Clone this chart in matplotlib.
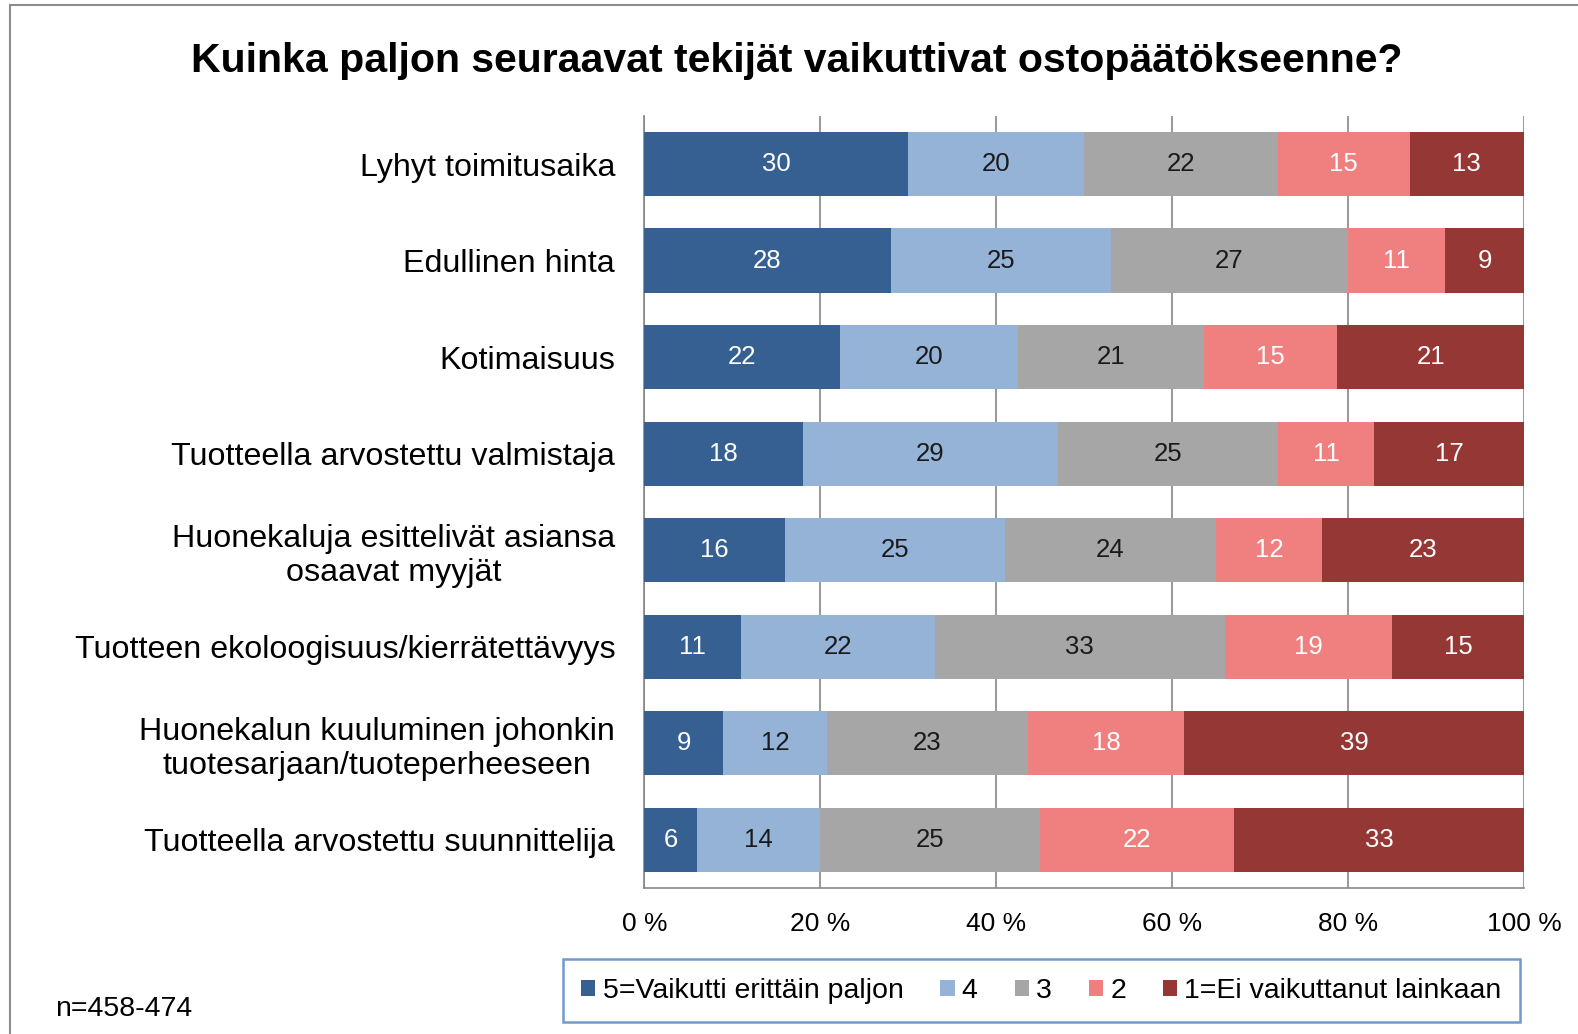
import matplotlib
matplotlib.use("Agg")
import matplotlib.pyplot as plt
from matplotlib.patches import Rectangle
import numpy as np

plt.rcParams["font.family"] = ["Liberation Sans", "DejaVu Sans"]

categories = [
    "Lyhyt toimitusaika",
    "Edullinen hinta",
    "Kotimaisuus",
    "Tuotteella arvostettu valmistaja",
    "Huonekaluja esittelivät asiansa\nosaavat myyjät",
    "Tuotteen ekoloogisuus/kierrätettävyys",
    "Huonekalun kuuluminen johonkin\ntuotesarjaan/tuoteperheeseen",
    "Tuotteella arvostettu suunnittelija",
]
series_names = ["5=Vaikutti erittäin paljon", "4", "3", "2", "1=Ei vaikuttanut lainkaan"]
v5 = [30, 28, 22, 18, 16, 11, 9, 6]
v4 = [20, 25, 20, 29, 25, 22, 12, 14]
v3 = [22, 27, 21, 25, 24, 33, 23, 25]
v2 = [15, 11, 15, 11, 12, 19, 18, 22]
v1 = [13, 9, 21, 17, 23, 15, 39, 33]
colors = ["#376092", "#95B3D7", "#A6A6A6", "#F08080", "#953735"]
label_colors = ["white", "#1a1a1a", "#1a1a1a", "white", "white"]

data = np.array([v5, v4, v3, v2, v1], dtype=float)
shares = data / data.sum(axis=0) * 100

fig = plt.figure(figsize=(15.78, 10.34), dpi=100)
ax = fig.add_axes([0.4083, 0.1412, 0.5575, 0.7468])

y = np.arange(len(categories))
left = np.zeros(len(categories))
for k in range(len(series_names)):
    ax.barh(y, shares[k], left=left, height=0.665, color=colors[k],
            label=series_names[k], zorder=3)
    for i in range(len(categories)):
        ax.text(left[i] + shares[k][i] / 2, y[i], f"{int(data[k][i])}",
                ha="center", va="center", fontsize=18.5, color=label_colors[k], zorder=4)
    left += shares[k]

ax.set_xlim(0, 100)
ax.set_ylim(len(categories) - 0.5, -0.5)
ax.set_yticks(y)
ax.set_yticklabels(categories, fontsize=23.2, ha="right", multialignment="center",
                   linespacing=1.2)
ax.set_xticks([0, 20, 40, 60, 80, 100])
ax.set_xticklabels(["0 %", "20 %", "40 %", "60 %", "80 %", "100 %"], fontsize=19)
ax.tick_params(axis="y", length=0, pad=21)
ax.tick_params(axis="x", length=0, pad=17)
ax.grid(axis="x", color="#868686", lw=1.2, zorder=0)
for s in ("top", "right"):
    ax.spines[s].set_visible(False)
for s in ("left", "bottom"):
    ax.spines[s].set_color("#868686")
    ax.spines[s].set_linewidth(1.2)

fig.text(0.505, 0.941, "Kuinka paljon seuraavat tekijät vaikuttivat ostopäätökseenne?",
         ha="center", va="center", fontsize=29.5, fontweight="bold")

leg = fig.legend(loc="center", bbox_to_anchor=(0.66, 0.0416), ncol=5,
                 fontsize=20.5, frameon=True, fancybox=False, handlelength=0.5,
                 handleheight=0.5, handletextpad=0.25, columnspacing=1.3,
                 borderpad=0.65)
leg.get_frame().set_edgecolor("#4F81BD")
leg.get_frame().set_linewidth(1.8)

fig.text(0.035, 0.024, "n=458-474", fontsize=20.5, va="center", ha="left")

fig.patches.append(Rectangle((0.0065, -0.1), 1.1, 1.095, transform=fig.transFigure,
                             fill=False, edgecolor="#8c8c8c", lw=1.5))

fig.savefig("out.png", dpi=100, facecolor="white")
